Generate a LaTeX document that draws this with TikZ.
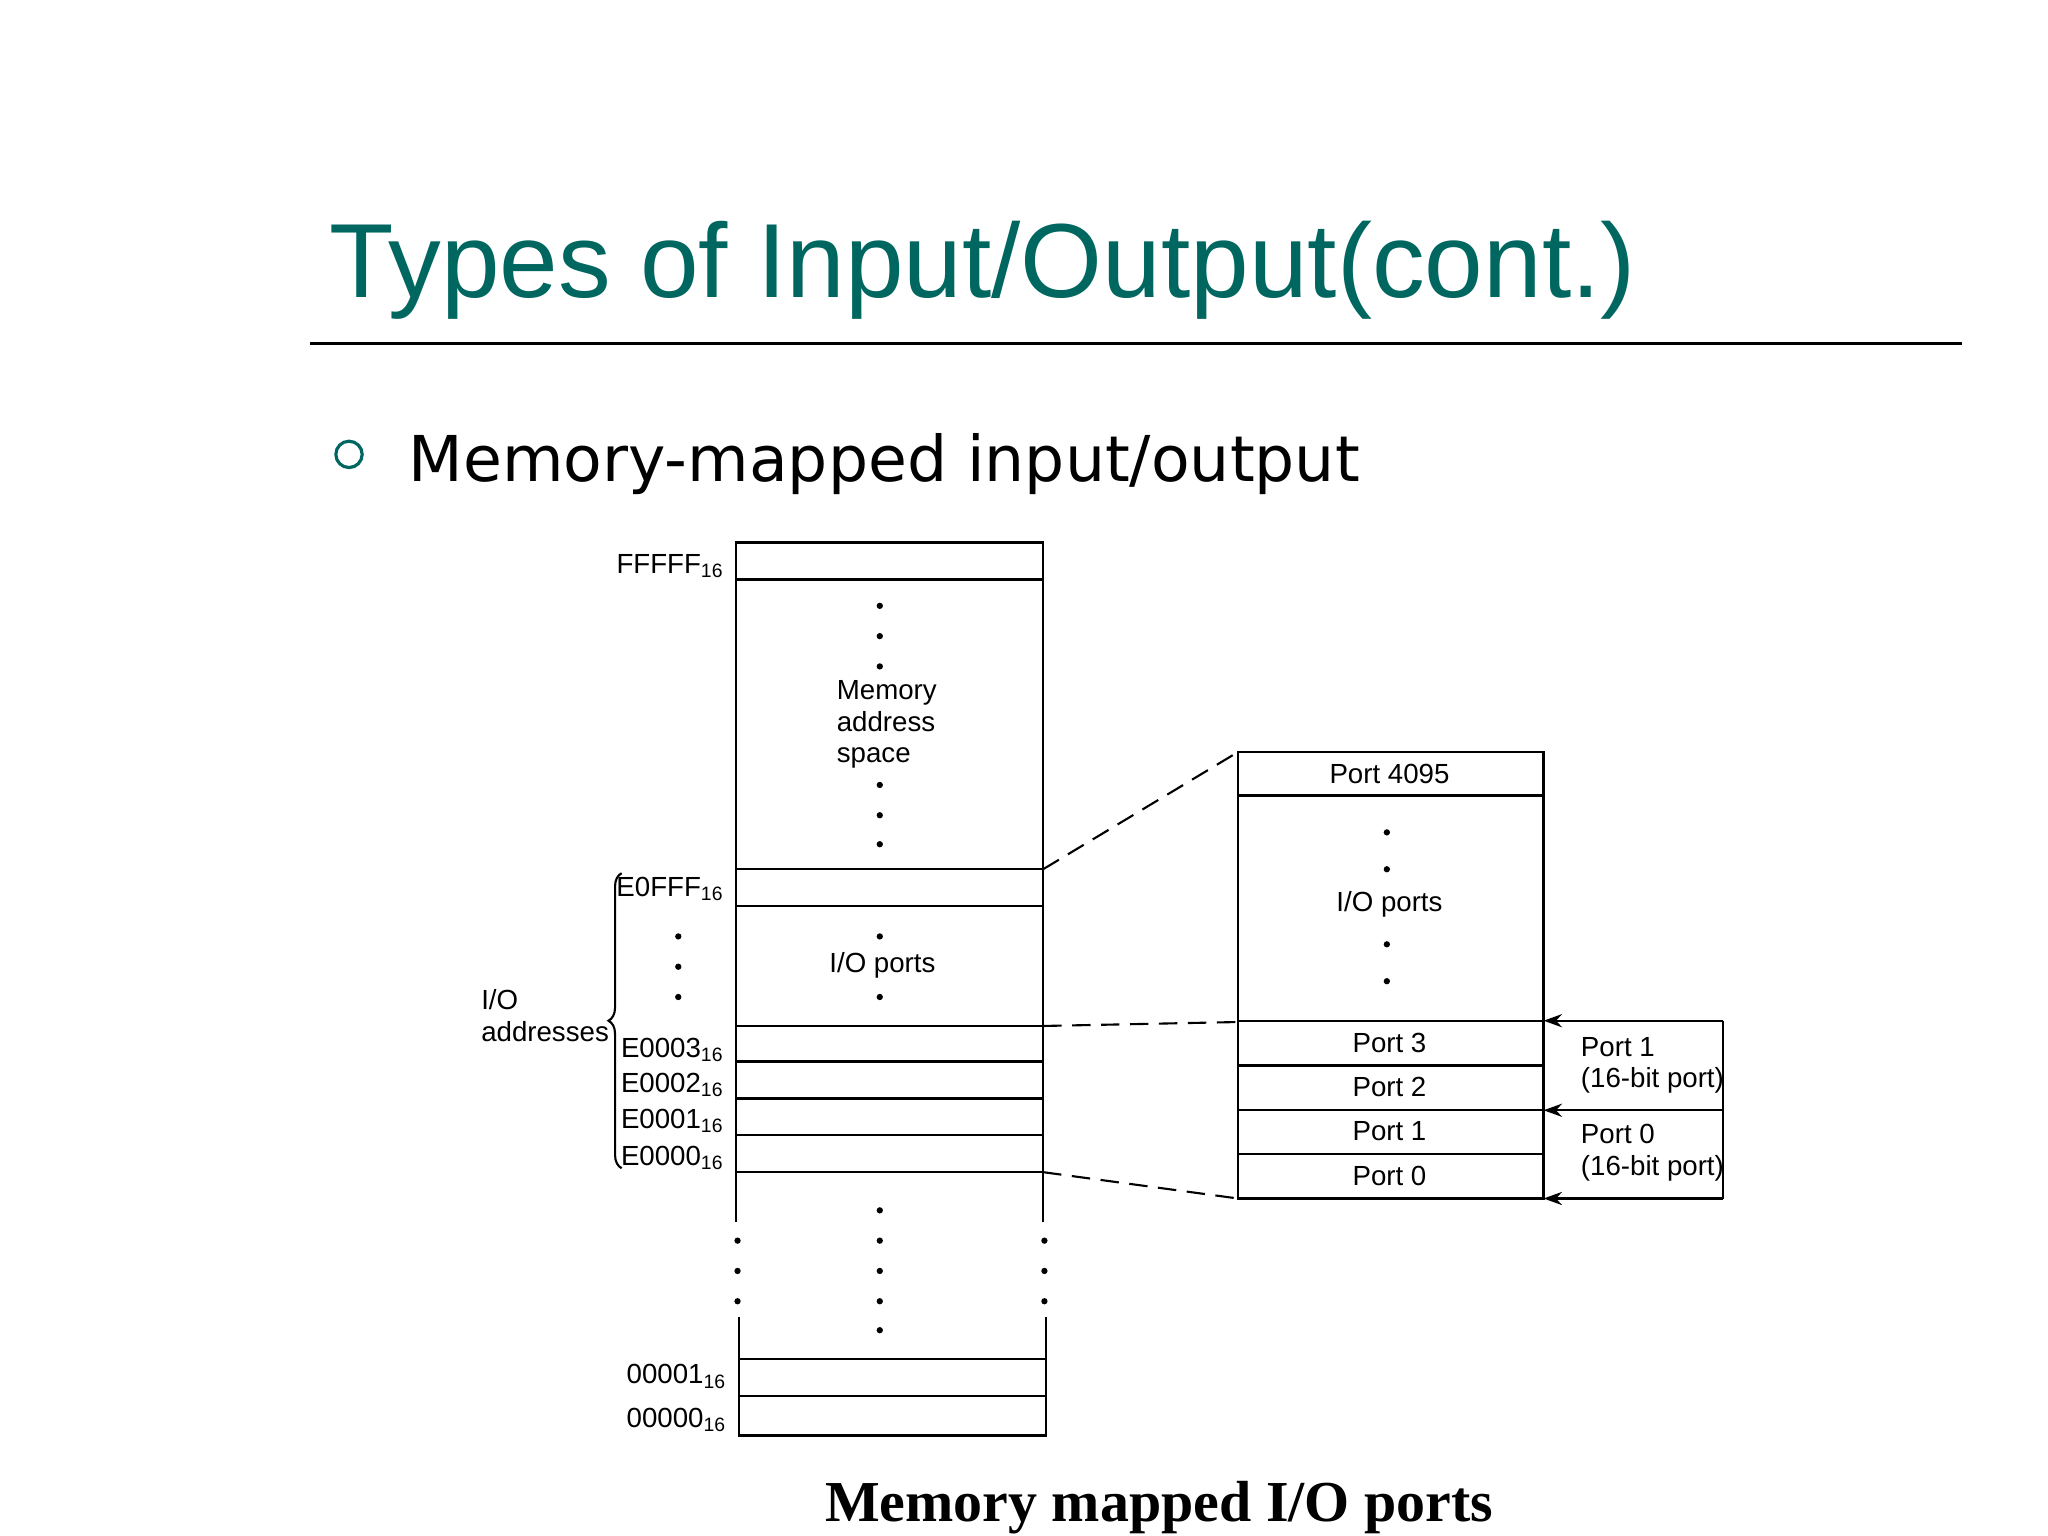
\documentclass[tikz,border=0pt]{standalone}
\usepackage{fontspec}
\setmainfont{Liberation Sans}
\newfontfamily\titlefont{DejaVu Sans}
\newfontfamily\capfont{Liberation Serif}
\usetikzlibrary{decorations.pathreplacing,arrows.meta}
\definecolor{teal}{RGB}{0,102,96}
\begin{document}
\begin{tikzpicture}[x=0.5pt,y=-0.5pt,
  lab/.style={font=\fontsize{10.5}{12}\selectfont,inner sep=0pt},
  addr/.style={lab,anchor=east},
  dot/.style={fill=black,circle,inner sep=0pt,minimum size=2.4pt},
  box/.style={line width=0.9pt},
  dashconn/.style={dash pattern=on 7pt off 4pt,line width=0.8pt}]
\useasboundingbox (0,0) rectangle (1555,1166);
\fill[white] (0,0) rectangle (1555,1166);
% title
\node[anchor=base west,inner sep=0pt,text=teal,font=\fontsize{40}{44}\selectfont] (title) at (250,226) {Types of Input/Output(cont.)};
\draw[line width=1pt] (235,261) -- (1490,261);
\draw[teal,line width=1.2pt] (265,345) circle (10);
\node[anchor=west,inner sep=0pt,font=\titlefont\fontsize{24}{28}\selectfont] (sub) at (310,352) {Memory-mapped input/output};
% memory column
\draw[box] (559,928) -- (559,412) -- (792,412) -- (792,928);
\draw[box] (561,1000) -- (561,1090) -- (794,1090) -- (794,1000);
\foreach \y in {440,660,688,779,806,834,862,890} \draw[box] (559,\y) -- (792,\y);
\foreach \y in {1032,1060} \draw[box] (561,\y) -- (794,\y);
\foreach \y in {942,965,988} {\node[dot] at (560,\y) {}; \node[dot] at (793,\y) {};}
\foreach \y in {460,483,506,596,619,641,711,757,919,942,965,988,1010} \node[dot] at (668,\y) {};
\foreach \y in {711,734,757} \node[dot] at (515,\y) {};
\node[lab,anchor=west,align=left] (mas) at (635,550) {Memory\\address\\space};
\node[lab] (iop1) at (670,733) {I/O ports};
\node[addr] at (550,430) {FFFFF\textsubscript{16}};
\node[addr] at (550,675) {E0FFF\textsubscript{16}};
\node[addr] at (550,797) {E0003\textsubscript{16}};
\node[addr] at (550,824) {E0002\textsubscript{16}};
\node[addr] at (550,851) {E0001\textsubscript{16}};
\node[addr] at (550,879) {E0000\textsubscript{16}};
\node[addr] at (552,1045) {00001\textsubscript{16}};
\node[addr] at (552,1078) {00000\textsubscript{16}};
\draw[line width=0.8pt,decorate,decoration={brace,amplitude=5pt}] (472,887) -- (472,663);
\node[lab,anchor=west,align=left] (ioa) at (365,771) {I/O\\addresses};
% right box
\draw[box] (940,571) rectangle (1172,910);
\foreach \y in {604,775,809,843,876} \draw[box] (940,\y) -- (1172,\y);
\foreach \y in {632,660,717,745} \node[dot] at (1053,\y) {};
\node[lab] at (1055,588) {Port 4095};
\node[lab] at (1055,687) {I/O ports};
\node[lab] at (1055,792) {Port 3};
\node[lab] at (1055,825) {Port 2};
\node[lab] at (1055,859) {Port 1};
\node[lab] at (1055,893) {Port 0};
% dashed connectors
\coordinate (a1) at (792,660); \coordinate (b1) at (940,571);
\coordinate (a2) at (792,779); \coordinate (b2) at (940,776);
\coordinate (a3) at (792,890); \coordinate (b3) at (940,910);
\draw[dashconn] (a1) -- (b1);
\draw[dashconn] (a2) -- (b2);
\draw[dashconn] (a3) -- (b3);
% bracket with arrows
\coordinate (r1) at (1308,775); \coordinate (r2) at (1308,843); \coordinate (r3) at (1308,910);
\coordinate (l1) at (1172,775); \coordinate (l2) at (1172,843); \coordinate (l3) at (1172,910);
\draw[line width=0.9pt] (r1) -- (r3);
\foreach \i in {1,2,3} \draw[line width=0.9pt,-{Stealth[length=7pt,width=5pt]}] (r\i) -- (l\i);
\node[lab,anchor=west,align=left] at (1200,809) {Port 1\\(16-bit port)};
\node[lab,anchor=west,align=left] at (1200,875) {Port 0\\(16-bit port)};
% caption
\node[font=\capfont\bfseries\fontsize{22}{26}\selectfont,inner sep=0pt] (cap) at (880,1145) {Memory mapped I/O ports};
\end{tikzpicture}
\end{document}
